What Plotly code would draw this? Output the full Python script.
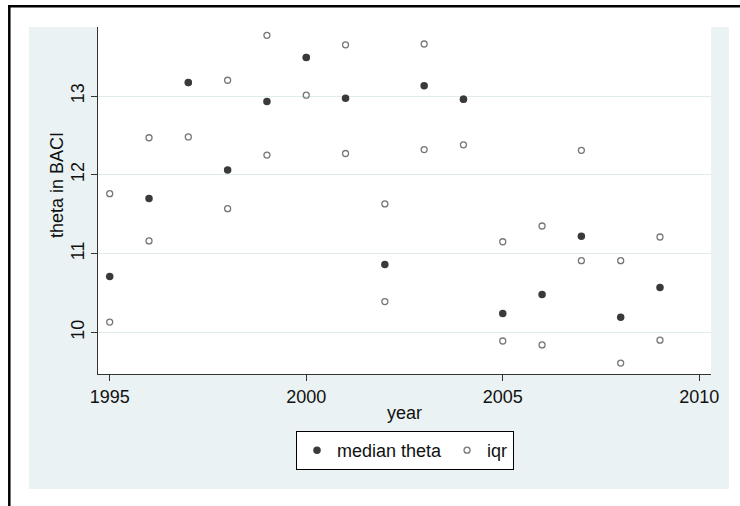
import plotly.graph_objects as go

# ---- data ----
years = [1995, 1996, 1997, 1998, 1999, 2000, 2001, 2002, 2003, 2004, 2005, 2006, 2007, 2008, 2009]
median_theta = [10.71, 11.70, 13.17, 12.06, 12.93, 13.49, 12.97, 10.86, 13.13, 12.96, 10.24, 10.48, 11.22, 10.19, 10.57]
iqr_p75 = [11.76, 12.47, 13.17, 13.20, 13.77, 13.49, 13.65, 11.63, 13.66, 12.96, 11.15, 11.35, 12.31, 10.91, 11.21]
iqr_p25 = [10.13, 11.16, 12.48, 11.57, 12.25, 13.01, 12.27, 10.39, 12.32, 12.38, 9.89, 9.84, 10.91, 9.61, 9.90]
x_ticks = [1995, 2000, 2005, 2010]
y_ticks = [10, 11, 12, 13]

# ---- geometry ----
W, H = 740, 506
L, R, T, B = 98, 711, 27, 374   # plot area in pixels
PW, PH = R - L, B - T

def px(x):
    return (x - L) / PW

def py(y):
    return (B - y) / PH

EBG = "#EAF2F3"
FONT = "Liberation Sans, Arial, Helvetica, sans-serif"
FS = 18

fig = go.Figure()
fig.add_trace(go.Scatter(
    x=years + years, y=iqr_p75 + iqr_p25, mode="markers", name="iqr",
    legendrank=2,
    marker=dict(symbol="circle-open", size=6, color="#777777", line=dict(width=1.3, color="#777777")),
))
fig.add_trace(go.Scatter(
    x=years, y=median_theta, mode="markers", name="median theta",
    legendrank=1,
    marker=dict(symbol="circle", size=7.5, color="#3a3a3a"),
))

shapes = []
# white outer margins around the shaded graph region
for (x0, y0, x1, y1) in [(0, 0, W, 27), (0, 0, 29, H), (729, 0, W, H), (0, 489, W, H)]:
    shapes.append(dict(type="rect", xref="paper", yref="paper", layer="below",
                       x0=px(x0), x1=px(x1), y0=py(y1), y1=py(y0),
                       fillcolor="white", line=dict(width=0)))
# black frame (top and left)
shapes.append(dict(type="line", xref="paper", yref="paper", x0=px(8), x1=px(W), y0=py(6.2), y1=py(6.2),
                   line=dict(color="black", width=2.5)))
shapes.append(dict(type="line", xref="paper", yref="paper", x0=px(9.3), x1=px(9.3), y0=py(5), y1=py(H),
                   line=dict(color="black", width=2.5)))

fig.update_layout(
    width=W, height=H,
    margin=dict(l=L, r=W - R, t=T, b=H - B),
    paper_bgcolor=EBG, plot_bgcolor="white",
    font=dict(family=FONT, size=FS, color="#111111"),
    shapes=shapes,
    showlegend=True,
    legend=dict(orientation="h", x=px(405), xanchor="center", y=py(431), yanchor="top",
                bgcolor="white", bordercolor="black", borderwidth=1,
                font=dict(family=FONT, size=FS), itemwidth=30),
    annotations=[dict(text="theta in BACI", xref="paper", yref="paper", x=px(57), y=py(185),
                      textangle=-90, showarrow=False, xanchor="center", yanchor="middle",
                      font=dict(family=FONT, size=FS))],
)
fig.update_xaxes(range=[1994.702, 2010.298], tickvals=x_ticks, ticks="outside", ticklen=6,
                 tickcolor="#333333", showline=True, linecolor="#333333", linewidth=1,
                 showgrid=False, zeroline=False, tickfont=dict(family=FONT, size=FS),
                 title=dict(text="year", standoff=0, font=dict(family=FONT, size=FS)))
fig.update_yaxes(range=[9.471, 13.876], tickvals=y_ticks, ticks="outside", ticklen=6,
                 tickcolor="#333333", showline=True, linecolor="#333333", linewidth=1,
                 showgrid=True, gridcolor="#E1EAEC", gridwidth=1, zeroline=False,
                 tickfont=dict(family=FONT, size=FS), tickangle=-90)

fig.write_html("out.html")
